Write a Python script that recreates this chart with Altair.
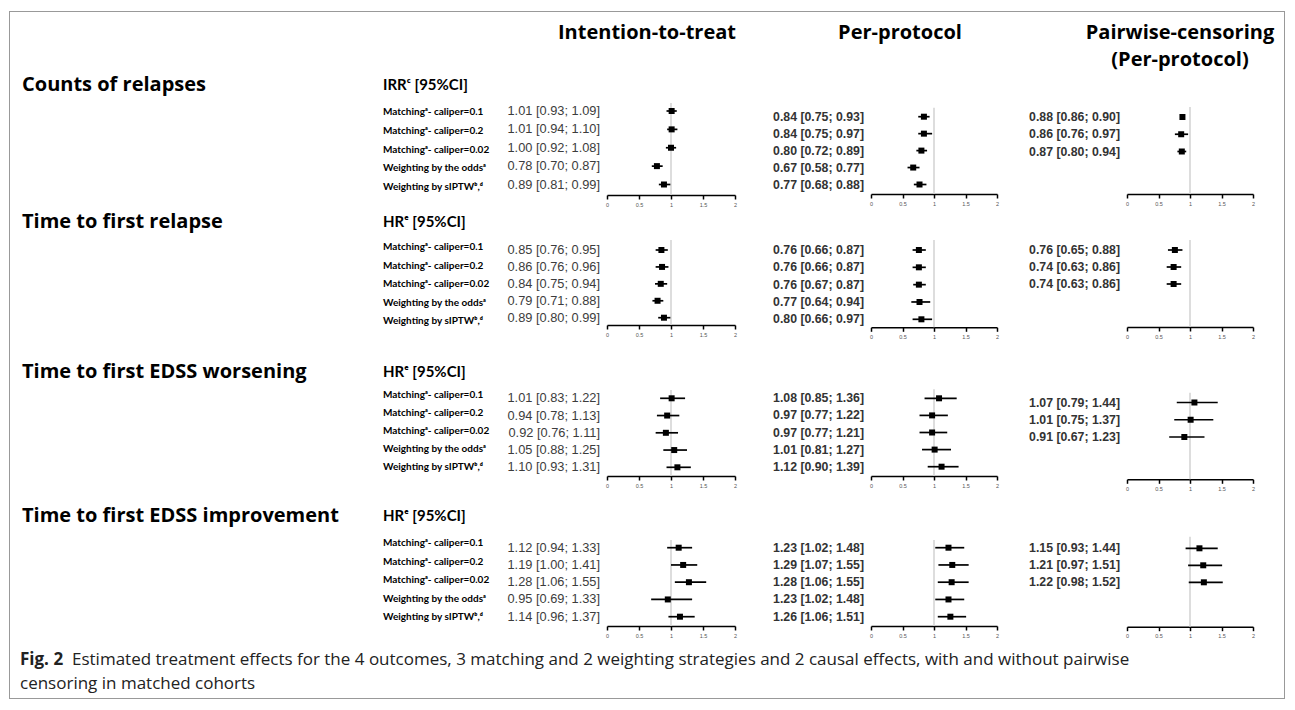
import altair as alt
import pandas as pd

# ----------------------------- data -----------------------------
column_headers = [["Intention-to-treat"], ["Per-protocol"], ["Pairwise-censoring", "(Per-protocol)"]]
outcomes = ["Counts of relapses", "Time to first relapse",
            "Time to first EDSS worsening", "Time to first EDSS improvement"]
measures = ["IRRᶜ [95%CI]", "HRᵉ [95%CI]", "HRᵉ [95%CI]", "HRᵉ [95%CI]"]
strategies = ["Matchingᵃ- caliper=0.1", "Matchingᵃ- caliper=0.2", "Matchingᵃ- caliper=0.02",
              "Weighting by the oddsᵃ", "Weighting by sIPTWᵇ,ᵈ"]

itt_est = [[1.01, 1.01, 1.00, 0.78, 0.89], [0.85, 0.86, 0.84, 0.79, 0.89],
           [1.01, 0.94, 0.92, 1.05, 1.10], [1.12, 1.19, 1.28, 0.95, 1.14]]
itt_lo = [[0.93, 0.94, 0.92, 0.70, 0.81], [0.76, 0.76, 0.75, 0.71, 0.80],
          [0.83, 0.78, 0.76, 0.88, 0.93], [0.94, 1.00, 1.06, 0.69, 0.96]]
itt_hi = [[1.09, 1.10, 1.08, 0.87, 0.99], [0.95, 0.96, 0.94, 0.88, 0.99],
          [1.22, 1.13, 1.11, 1.25, 1.31], [1.33, 1.41, 1.55, 1.33, 1.37]]

pp_est = [[0.84, 0.84, 0.80, 0.67, 0.77], [0.76, 0.76, 0.76, 0.77, 0.80],
          [1.08, 0.97, 0.97, 1.01, 1.12], [1.23, 1.29, 1.28, 1.23, 1.26]]
pp_lo = [[0.75, 0.75, 0.72, 0.58, 0.68], [0.66, 0.66, 0.67, 0.64, 0.66],
         [0.85, 0.77, 0.77, 0.81, 0.90], [1.02, 1.07, 1.06, 1.02, 1.06]]
pp_hi = [[0.93, 0.97, 0.89, 0.77, 0.88], [0.87, 0.87, 0.87, 0.94, 0.97],
         [1.36, 1.22, 1.21, 1.27, 1.39], [1.48, 1.55, 1.55, 1.48, 1.51]]

pw_est = [[0.88, 0.86, 0.87], [0.76, 0.74, 0.74], [1.07, 1.01, 0.91], [1.15, 1.21, 1.22]]
pw_lo = [[0.86, 0.76, 0.80], [0.65, 0.63, 0.63], [0.79, 0.75, 0.67], [0.93, 0.97, 0.98]]
pw_hi = [[0.90, 0.97, 0.94], [0.88, 0.86, 0.86], [1.44, 1.37, 1.23], [1.44, 1.51, 1.52]]

axis_ticks = [0, 0.5, 1, 1.5, 2]
reference_value = [1]

caption_fig = "Fig. 2"
caption_line1 = ("Estimated treatment effects for the 4 outcomes, 3 matching and 2 weighting strategies "
                 "and 2 causal effects, with and without pairwise")
caption_line2 = "censoring in matched cohorts"

# ----------------------------- layout (pixels) -----------------------------
FULL_W = 1274
FRAME = "#999999"
HEADER_H = 58
HEADER_X = [637, 890, 1170]
HEADER_LINES_Y = [21, 48]
BLOCK_H = [140, 150, 145, 140]
TITLE_Y = [14.5, 12, 12, 11]
LABEL_RANGE = [(42, 117), (37, 111), (35, 107.3), (38.3, 112.3)]
LEFT_W = 597
PANEL_W = {"itt": 128, "pp": 126, "pw": 126}
GAPS = [136, 130, 31]
# (row range, plot height = axis position, top of the reference line)
PANEL = {
    "itt": [((41, 114.5), 125, 33), ((40, 107.7), 115, 30), ((38.3, 107.3), 116, 30), ((42.7, 111.7), 121, 35)],
    "pp": [((46.7, 114.5), 124, 37.7), ((40, 109.3), 117.3, 30), ((38.3, 106.7), 116, 29.3), ((42.7, 111.7), 121, 35)],
    "pw": [((47, 81.5), 124, 37), ((40, 74), 117, 30), ((42.5, 77), 119.3, 32.7), ((43.3, 77.3), 121.7, 31.7)],
}
CAPTION_H = 53


def spacer(w, h):
    return alt.Chart(pd.DataFrame({"v": [""]})).mark_text(fontSize=0).encode(
        text="v:N").properties(width=w, height=h)


def edge(w, h):
    return spacer(w, h).properties(view=alt.ViewBackground(fill=FRAME))


def forest(est, lo, hi, width, rng, height, ref_top, bold):
    n = len(est)
    df = pd.DataFrame({
        "row": list(range(n)), "est": est, "lo": lo, "hi": hi,
        "label": [f"{e:.2f} [{l:.2f}; {h:.2f}]" for e, l, h in zip(est, lo, hi)],
    })
    xs = alt.Scale(domain=[0, 2], nice=False, zero=False)
    ys = alt.Scale(domain=[0, n - 1], range=list(rng), nice=False, zero=False)
    xaxis = alt.Axis(values=axis_ticks, labelExpr="'' + datum.value", title=None, grid=False,
                     domainColor="black", domainWidth=1.5, tickColor="black", tickWidth=1.5,
                     tickSize=4, labelFontSize=5.5, labelColor="#555", labelPadding=3,
                     labelFont="Liberation Sans", labelFlush=False, labelOverlap=False)
    ref = alt.Chart(pd.DataFrame({"ref": reference_value})).mark_rule(
        color="#d2d2d2", strokeWidth=1.5
    ).encode(x=alt.X("ref:Q", scale=xs, axis=xaxis), y=alt.value(ref_top), y2=alt.value(height))
    base = alt.Chart(df)
    bars = base.mark_rule(color="black", strokeWidth=1.7).encode(
        x=alt.X("lo:Q", scale=xs, axis=xaxis), x2="hi:Q",
        y=alt.Y("row:Q", scale=ys, axis=None))
    pts = base.mark_square(size=36, color="black", opacity=1, filled=True).encode(
        x=alt.X("est:Q", scale=xs, axis=xaxis), y=alt.Y("row:Q", scale=ys, axis=None))
    txt = base.mark_text(
        align="right", baseline="middle", font="Liberation Sans",
        fontSize=12.3 if bold else 12.8,
        fontWeight="bold" if bold else "normal", color="#333" if bold else "#3c3c3c",
    ).encode(x=alt.value(-7), y=alt.Y("row:Q", scale=ys, axis=None), text="label:N")
    return alt.layer(ref, bars, pts, txt).properties(width=width, height=height)


def left_panel(b):
    df = pd.DataFrame({"row": list(range(len(strategies))), "label": strategies})
    ys = alt.Scale(domain=[0, len(strategies) - 1], range=list(LABEL_RANGE[b]), nice=False, zero=False)
    labels = alt.Chart(df).mark_text(
        align="left", baseline="middle", font="Lato", fontSize=10, fontWeight="bold", color="black"
    ).encode(x=alt.value(373), y=alt.Y("row:Q", scale=ys, axis=None), text="label:N")
    tdf = pd.DataFrame({"outcome": [outcomes[b]], "measure": [measures[b]]})
    title = alt.Chart(tdf).mark_text(
        align="left", baseline="middle", font="Open Sans", fontSize=20, fontWeight="bold", color="black"
    ).encode(x=alt.value(12), y=alt.value(TITLE_Y[b]), text="outcome:N")
    meas = alt.Chart(tdf).mark_text(
        align="left", baseline="middle", font="Lato", fontSize=15, fontWeight="bold", color="black"
    ).encode(x=alt.value(373), y=alt.value(TITLE_Y[b]), text="measure:N")
    return alt.layer(title, meas, labels).properties(width=LEFT_W, height=BLOCK_H[b])


def block(b):
    itt = forest(itt_est[b], itt_lo[b], itt_hi[b], PANEL_W["itt"], *PANEL["itt"][b], bold=False)
    pp = forest(pp_est[b], pp_lo[b], pp_hi[b], PANEL_W["pp"], *PANEL["pp"][b], bold=True)
    pw = forest(pw_est[b], pw_lo[b], pw_hi[b], PANEL_W["pw"], *PANEL["pw"][b], bold=True)
    return alt.hconcat(left_panel(b), itt, spacer(GAPS[0], 1), pp, spacer(GAPS[1], 1), pw,
                       spacer(GAPS[2], 1), spacing=0, bounds="flush")


def header():
    layers = []
    for c, lines in enumerate(column_headers):
        df = pd.DataFrame({"line": list(range(len(lines))), "text": lines})
        layers.append(alt.Chart(df).mark_text(
            align="center", baseline="middle", font="Open Sans", fontSize=20, fontWeight="bold", color="black"
        ).encode(x=alt.value(HEADER_X[c]),
                 y=alt.Y("line:Q", scale=alt.Scale(domain=[0, 1], range=HEADER_LINES_Y), axis=None),
                 text="text:N"))
    return alt.layer(*layers).properties(width=FULL_W, height=HEADER_H)


def caption():
    df = pd.DataFrame({"fig": [caption_fig], "l1": [caption_line1], "l2": [caption_line2]})
    base = alt.Chart(df)
    style = dict(align="left", baseline="middle", font="Open Sans", fontSize=17, color="#222")
    fig = base.mark_text(fontWeight="bold", **style).encode(x=alt.value(10), y=alt.value(15), text="fig:N")
    l1 = base.mark_text(**style).encode(x=alt.value(62), y=alt.value(15), text="l1:N")
    l2 = base.mark_text(**style).encode(x=alt.value(10), y=alt.value(39), text="l2:N")
    return alt.layer(fig, l1, l2).properties(width=FULL_W, height=CAPTION_H)


total_h = 1 + HEADER_H + sum(BLOCK_H) + CAPTION_H + 1
middle = alt.vconcat(edge(FULL_W, 1), header(), block(0), block(1), block(2), block(3),
                     caption(), edge(FULL_W, 1), spacing=0)

chart = alt.hconcat(edge(1, total_h), middle, edge(1, total_h), spacing=0).properties(
    padding={"left": 1, "top": 3, "right": 0, "bottom": 0}
).configure(background="white").configure_view(stroke=None)

chart.save("out.html", embed_options={"renderer": "svg", "actions": False})
